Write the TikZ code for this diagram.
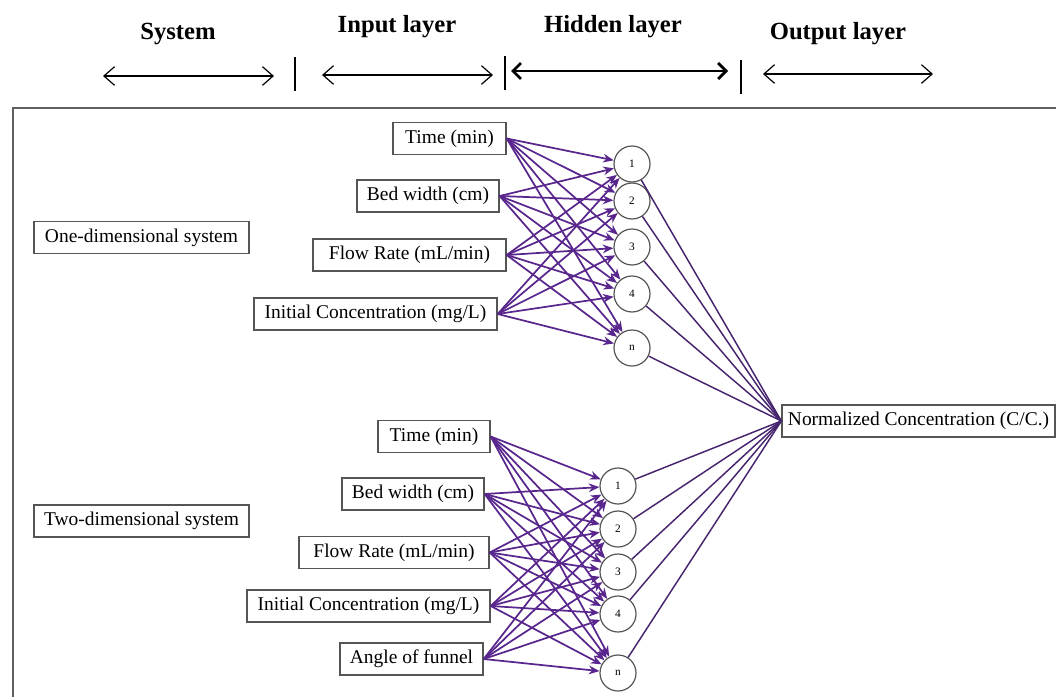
\documentclass[tikz,border=0pt]{standalone}
\usepackage{fontspec}
\setmainfont{Liberation Serif}
\usetikzlibrary{arrows.meta}
\definecolor{conn}{RGB}{88,38,140}
\definecolor{outc}{RGB}{70,36,110}
\definecolor{boxc}{RGB}{85,85,85}
\begin{document}
\begin{tikzpicture}[x=0.75pt,y=-0.75pt,
  box/.style={draw=boxc, line width=1pt, minimum height=24pt, inner sep=2pt, font=\fontsize{14.6}{17}\selectfont},
  hid/.style={circle, draw=boxc, line width=0.9pt, minimum size=27pt, inner sep=0pt, font=\fontsize{8.5}{10}\selectfont},
  head/.style={font=\fontsize{18.5}{22}\selectfont\bfseries},
  link/.style={draw=conn, line width=1.3pt, -{Stealth[length=8pt,width=6.5pt]}},
  olink/.style={draw=outc, line width=1.1pt},
  harrow/.style={line width=0.9pt, {Straight Barb[length=8pt,width=14pt]}-{Straight Barb[length=8pt,width=14pt]}},
  hharrow/.style={line width=2pt, {Straight Barb[length=6pt,width=12pt]}-{Straight Barb[length=6pt,width=12pt]}},
  tickline/.style={line width=0.9pt}]
\useasboundingbox (0,0) rectangle (1056,696);
\begin{scope}
  \clip (0,0) rectangle (1056,696);
  \draw[line width=1.5pt, draw=gray!75!black] (13,108) rectangle (1070,710);
\end{scope}

% headers
\node[head] (hs) at (178,34) {System};
\node[head] (hi) at (397,27) {Input layer};
\node[head] (hh) at (613,27) {Hidden layer};
\node[head] (ho) at (838,34) {Output layer};

\coordinate (sa1) at (103,76); \coordinate (sa2) at (274,76);
\coordinate (ia1) at (322,75); \coordinate (ia2) at (493,75);
\coordinate (ha1) at (511,71); \coordinate (ha2) at (728,71);
\coordinate (oa1) at (763,74); \coordinate (oa2) at (933,74);
\draw[harrow] (sa1) -- (sa2);
\draw[harrow] (ia1) -- (ia2);
\draw[hharrow] (ha1) -- (ha2);
\draw[harrow] (oa1) -- (oa2);

\coordinate (t1a) at (295,57); \coordinate (t1b) at (295,91);
\coordinate (t2a) at (505,56); \coordinate (t2b) at (505,90);
\coordinate (t3a) at (741,60); \coordinate (t3b) at (741,94);
\draw[tickline] (t1a) -- (t1b);
\draw[tickline] (t2a) -- (t2b);
\draw[tickline] (t3a) -- (t3b);

% system boxes
\node[box, minimum width=161.25pt] (s1) at (141.5,237.5) {One-dimensional system};
\node[box, minimum width=161.25pt] (s2) at (141.5,521) {Two-dimensional system};

% one-dimensional inputs
\node[box, minimum width=84.75pt] (a1) at (449.5,138.5) {Time (min)};
\node[box, minimum width=106.5pt] (a2) at (428,196) {Bed width (cm)};
\node[box, minimum width=144.75pt] (a3) at (409.5,255) {Flow Rate (mL/min)};
\node[box, minimum width=182.25pt] (a4) at (375.5,314) {Initial Concentration (mg/L)};

% two-dimensional inputs
\node[box, minimum width=84pt] (b1) at (434,436.5) {Time (min)};
\node[box, minimum width=106.5pt] (b2) at (413,494) {Bed width (cm)};
\node[box, minimum width=142.5pt] (b3) at (394,552.5) {Flow Rate (mL/min)};
\node[box, minimum width=182.25pt] (b4) at (368.5,606) {Initial Concentration (mg/L)};
\node[box, minimum width=107.25pt] (b5) at (411.5,659) {Angle of funnel};

% hidden nodes
\node[hid] (h1) at (632,164) {1};
\node[hid] (h2) at (632,201) {2};
\node[hid] (h3) at (632,247) {3};
\node[hid] (h4) at (632,294) {4};
\node[hid] (h5) at (632,348) {n};

\node[hid] (g1) at (618,486) {1};
\node[hid] (g2) at (618,529) {2};
\node[hid] (g3) at (618,572) {3};
\node[hid] (g4) at (618,614) {4};
\node[hid] (g5) at (618,673) {n};

% output
\node[box, minimum width=204.75pt] (out) at (918.5,421) {Normalized Concentration (C/C.)};

% links
\foreach \i in {a1,a2,a3,a4}
  \foreach \j in {h1,h2,h3,h4,h5}
    \draw[link] (\i.east) -- (\j);
\foreach \i in {b1,b2,b3,b4,b5}
  \foreach \j in {g1,g2,g3,g4,g5}
    \draw[link] (\i.east) -- (\j);
\foreach \j in {h1,h2,h3,h4,h5,g1,g2,g3,g4,g5}
  \draw[olink] (\j) -- (out.west);
\end{tikzpicture}
\end{document}
